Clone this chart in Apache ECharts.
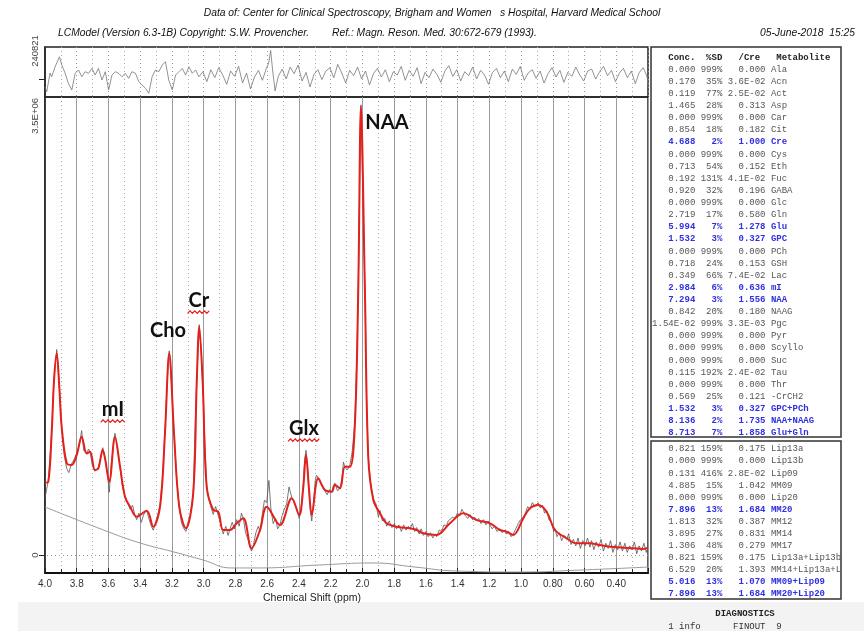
<!DOCTYPE html>
<html>
<head>
<meta charset="utf-8">
<script src="https://cdn.jsdelivr.net/npm/echarts@6/dist/echarts.min.js"></script>
<style>
html, body { margin: 0; padding: 0; background: #fff; }
#chart { width: 864px; height: 631px; }
</style>
</head>
<body>
<div id="chart"></div>
<script>
// LCModel fit output: spectrum (ppm, value in units of 1E+06)
const fitPoints = [
    [4.000,0.552],[3.979,0.560],[3.958,0.930],[3.943,1.337],[3.926,1.541],[3.910,1.286],[3.895,0.980],
    [3.863,0.701],[3.832,0.688],[3.800,0.764],[3.769,0.904],[3.737,0.777],[3.716,0.789],[3.685,0.649],
    [3.664,0.662],[3.636,0.802],[3.622,0.741],[3.595,0.560],[3.559,0.904],[3.527,0.675],[3.496,0.445],
    [3.464,0.369],[3.422,0.293],[3.359,0.338],[3.318,0.216],[3.275,0.369],[3.244,0.930],[3.217,1.541],
    [3.187,0.930],[3.154,0.369],[3.112,0.204],[3.066,0.471],[3.044,1.312],[3.028,1.744],[3.006,1.312],
    [2.981,0.522],[2.940,0.344],[2.908,0.331],[2.877,0.191],[2.834,0.191],[2.792,0.242],[2.750,0.280],
    [2.698,0.051],[2.645,0.191],[2.603,0.369],[2.519,0.229],[2.445,0.433],[2.398,0.306],[2.374,0.497],
    [2.355,0.764],[2.336,0.497],[2.319,0.306],[2.278,0.586],[2.236,0.497],[2.193,0.484],[2.173,0.535],
    [2.141,0.510],[2.110,0.675],[2.078,0.675],[2.047,1.006],[2.026,2.024],[2.009,3.425],[1.984,2.024],
    [1.963,0.751],[1.931,0.420],[1.889,0.319],[1.847,0.242],[1.784,0.216],[1.700,0.204],[1.658,0.191],
    [1.616,0.166],[1.532,0.153],[1.448,0.242],[1.364,0.319],[1.280,0.267],[1.196,0.242],[1.133,0.191],
    [1.091,0.178],[1.049,0.153],[0.986,0.280],[0.944,0.357],[0.892,0.382],[0.839,0.331],[0.786,0.191],
    [0.713,0.128],[0.650,0.089],[0.566,0.089],[0.503,0.076],[0.398,0.059],[0.293,0.051],[0.230,0.046],
    [0.200,0.056]
];

const rawPoints = [
    [4.000,0.44],[3.990,0.50],[3.979,0.57],[3.958,0.94],[3.943,1.35],[3.926,1.57],[3.910,1.30],[3.895,0.98],
    [3.880,0.77],[3.863,0.66],[3.850,0.63],[3.840,0.62],[3.832,0.70],[3.816,0.73],[3.800,0.78],[3.782,0.85],
    [3.769,0.95],[3.756,0.80],[3.737,0.77],[3.726,0.81],[3.716,0.79],[3.701,0.68],[3.685,0.64],[3.664,0.67],
    [3.651,0.73],[3.636,0.82],[3.622,0.74],[3.607,0.62],[3.595,0.48],[3.582,0.70],[3.559,0.93],[3.542,0.79],
    [3.527,0.67],[3.512,0.52],[3.496,0.45],[3.480,0.40],[3.464,0.35],[3.448,0.38],[3.433,0.30],[3.422,0.27],
    [3.408,0.32],[3.393,0.25],[3.378,0.31],[3.359,0.34],[3.343,0.27],[3.330,0.22],[3.318,0.19],[3.303,0.25],
    [3.289,0.31],[3.275,0.38],[3.259,0.60],[3.244,0.94],[3.231,1.30],[3.217,1.56],[3.202,1.29],[3.187,0.93],
    [3.171,0.60],[3.154,0.36],[3.139,0.24],[3.124,0.20],[3.112,0.18],[3.099,0.25],[3.084,0.31],[3.066,0.47],
    [3.055,0.95],[3.044,1.32],[3.028,1.76],[3.017,1.58],[3.006,1.31],[2.994,0.90],[2.981,0.53],[2.969,0.43],
    [2.955,0.37],[2.940,0.31],[2.925,0.37],[2.908,0.30],[2.895,0.25],[2.877,0.16],[2.861,0.22],[2.846,0.15],
    [2.834,0.20],[2.820,0.25],[2.806,0.20],[2.792,0.27],[2.776,0.22],[2.762,0.32],[2.750,0.28],[2.736,0.17],
    [2.721,0.12],[2.706,0.05],[2.698,0.03],[2.686,0.08],[2.671,0.17],[2.656,0.22],[2.645,0.18],[2.632,0.30],
    [2.617,0.42],[2.603,0.40],[2.589,0.57],[2.577,0.36],[2.562,0.24],[2.547,0.28],[2.534,0.20],[2.519,0.23],
    [2.506,0.30],[2.492,0.35],[2.477,0.39],[2.462,0.52],[2.445,0.44],[2.431,0.40],[2.416,0.36],[2.398,0.28],
    [2.386,0.37],[2.374,0.50],[2.364,0.73],[2.355,0.80],[2.345,0.66],[2.336,0.48],[2.327,0.33],[2.319,0.26],
    [2.306,0.43],[2.297,0.57],[2.289,0.61],[2.278,0.59],[2.263,0.55],[2.248,0.51],[2.236,0.49],[2.222,0.46],
    [2.207,0.50],[2.193,0.48],[2.183,0.53],[2.173,0.55],[2.157,0.49],[2.141,0.51],[2.129,0.59],[2.119,0.71],
    [2.110,0.67],[2.094,0.65],[2.078,0.69],[2.064,0.79],[2.047,1.02],[2.034,1.56],[2.026,2.04],[2.017,2.81],
    [2.009,3.44],[1.999,2.90],[1.984,2.04],[1.974,1.21],[1.963,0.76],[1.949,0.56],[1.931,0.43],[1.914,0.39],
    [1.899,0.29],[1.889,0.34],[1.874,0.26],[1.859,0.28],[1.847,0.22],[1.831,0.26],[1.814,0.21],[1.799,0.24],
    [1.784,0.20],[1.770,0.23],[1.754,0.18],[1.740,0.23],[1.725,0.19],[1.710,0.22],[1.700,0.20],[1.685,0.24],
    [1.670,0.18],[1.658,0.21],[1.642,0.16],[1.630,0.20],[1.616,0.15],[1.600,0.18],[1.585,0.14],[1.571,0.17],
    [1.556,0.13],[1.541,0.16],[1.532,0.14],[1.516,0.19],[1.501,0.18],[1.486,0.23],[1.471,0.22],[1.459,0.26],
    [1.448,0.25],[1.431,0.29],[1.416,0.28],[1.401,0.32],[1.386,0.30],[1.373,0.35],[1.364,0.33],[1.351,0.30],
    [1.336,0.28],[1.321,0.31],[1.306,0.27],[1.292,0.29],[1.280,0.26],[1.267,0.28],[1.252,0.24],[1.237,0.27],
    [1.222,0.23],[1.207,0.26],[1.196,0.23],[1.182,0.20],[1.167,0.22],[1.152,0.18],[1.133,0.20],[1.118,0.17],
    [1.103,0.19],[1.091,0.16],[1.078,0.18],[1.063,0.14],[1.049,0.16],[1.033,0.20],[1.018,0.24],[1.003,0.27],
    [0.986,0.29],[0.973,0.32],[0.958,0.37],[0.944,0.35],[0.929,0.40],[0.914,0.37],[0.892,0.40],[0.879,0.36],
    [0.864,0.38],[0.852,0.32],[0.839,0.34],[0.824,0.27],[0.809,0.25],[0.794,0.18],[0.786,0.20],[0.774,0.14],
    [0.759,0.17],[0.744,0.11],[0.729,0.15],[0.713,0.12],[0.700,0.16],[0.685,0.08],[0.670,0.12],[0.655,0.07],
    [0.641,0.13],[0.626,0.05],[0.611,0.11],[0.596,0.07],[0.581,0.13],[0.566,0.06],[0.556,0.11],[0.541,0.04],
    [0.526,0.10],[0.511,0.06],[0.496,0.12],[0.481,0.03],[0.466,0.09],[0.451,0.05],[0.436,0.11],[0.421,0.02],
    [0.406,0.08],[0.391,0.04],[0.376,0.10],[0.361,0.03],[0.346,0.09],[0.331,0.02],[0.316,0.07],[0.301,0.04],
    [0.286,0.10],[0.271,0.01],[0.256,0.07],[0.241,0.03],[0.226,0.09],[0.211,0.02],[0.200,0.07]
];

const baselinePoints = [
    [4.000,0.367],[3.603,0.178],[3.401,0.092],[3.193,0.025],[3.004,-0.038],[2.822,-0.099],[2.664,-0.099],
    [2.267,-0.076],[1.933,-0.061],[1.669,-0.092],[1.410,-0.122],[1.007,-0.130],[0.629,-0.115],[0.200,-0.092]
];

const residualPoints = [
    [4.000,-0.060],[3.989,-0.095],[3.968,0.045],[3.958,0.017],[3.937,0.090],[3.909,0.167],[3.894,0.105],
    [3.873,0.043],[3.853,-0.032],[3.831,-0.083],[3.810,0.043],[3.789,0.068],[3.768,0.017],[3.747,0.055],
    [3.726,0.043],[3.704,0.080],[3.684,0.030],[3.663,0.080],[3.641,-0.008],[3.620,0.055],[3.599,-0.083],
    [3.578,0.030],[3.557,0.055],[3.536,0.043],[3.515,0.017],[3.494,0.043],[3.473,0.005],[3.452,0.055],
    [3.430,0.043],[3.409,-0.020],[3.388,-0.045],[3.367,-0.070],[3.346,-0.107],[3.325,0.017],[3.304,0.068],
    [3.283,0.055],[3.261,0.105],[3.241,0.130],[3.220,-0.008],[3.198,-0.083],[3.177,0.030],[3.156,0.055],
    [3.135,0.080],[3.114,0.030],[3.093,0.092],[3.072,0.043],[3.051,0.068],[3.030,0.017],[3.005,0.055],
    [2.980,-0.020],[2.955,0.070],[2.930,0.010],[2.905,0.085],[2.880,0.030],[2.855,-0.040],[2.830,0.060],
    [2.805,0.020],[2.780,0.095],[2.755,-0.030],[2.730,0.045],[2.705,-0.075],[2.680,0.015],[2.655,0.065],
    [2.630,-0.010],[2.605,0.080],[2.590,0.120],[2.578,0.215],[2.565,0.060],[2.550,-0.090],[2.530,0.020],
    [2.505,0.075],[2.480,0.000],[2.455,0.090],[2.430,0.040],[2.405,0.105],[2.380,-0.015],[2.355,0.050],
    [2.330,-0.060],[2.305,0.035],[2.280,0.070],[2.255,-0.005],[2.230,0.060],[2.205,0.085],[2.180,0.010],
    [2.155,0.110],[2.130,0.045],[2.105,-0.030],[2.080,0.065],[2.055,0.025],[2.030,0.090],[2.005,0.000],
    [1.980,0.060],[1.955,-0.045],[1.930,0.040],[1.905,0.080],[1.880,0.015],[1.855,0.070],[1.830,-0.020],
    [1.805,0.055],[1.780,0.030],[1.755,0.095],[1.730,-0.010],[1.705,0.065],[1.680,0.020],[1.655,0.085],
    [1.630,-0.035],[1.605,0.050],[1.580,0.010],[1.555,0.075],[1.530,0.035],[1.505,-0.025],[1.480,0.060],
    [1.455,0.100],[1.430,0.020],[1.405,0.070],[1.380,-0.015],[1.355,0.055],[1.330,0.025],[1.305,0.090],
    [1.280,0.000],[1.255,0.065],[1.230,0.030],[1.205,-0.040],[1.180,0.050],[1.155,0.080],[1.130,0.010],
    [1.105,0.060],[1.080,-0.020],[1.055,0.075],[1.030,0.035],[1.005,0.095],[0.980,-0.010],[0.955,0.045],
    [0.930,0.070],[0.905,0.005],[0.880,0.060],[0.855,-0.030],[0.830,0.040],[0.805,0.085],[0.780,0.015],
    [0.755,0.065],[0.730,-0.025],[0.705,0.050],[0.680,0.020],[0.655,0.090],[0.630,0.030],[0.605,-0.015],
    [0.580,0.060],[0.555,0.075],[0.530,0.000],[0.505,0.055],[0.480,0.095],[0.455,0.025],[0.430,0.065],
    [0.405,-0.020],[0.380,0.045],[0.355,0.080],[0.330,0.010],[0.305,0.060],[0.280,-0.035],[0.255,0.050],
    [0.230,0.085],[0.205,0.015],[0.200,-0.050]
];

// concentration table (top box)
const metaboliteNames = ['Ala','Acn','Act','Asp','Car','Cit','Cre','Cys','Eth','Fuc','GABA','Glc','Gln','Glu','GPC',
    'PCh','GSH','Lac','mI','NAA','NAAG','Pgc','Pyr','Scyllo','Suc','Tau','Thr','-CrCH2','GPC+PCh','NAA+NAAG','Glu+Gln'];
const metaboliteConc = ['0.000','0.170','0.119','1.465','0.000','0.854','4.688','0.000','0.713','0.192','0.920','0.000',
    '2.719','5.994','1.532','0.000','0.718','0.349','2.984','7.294','0.842','1.54E-02','0.000','0.000','0.000','0.115',
    '0.000','0.569','1.532','8.136','8.713'];
const metaboliteSD = ['999%','35%','77%','28%','999%','18%','2%','999%','54%','131%','32%','999%','17%','7%','3%',
    '999%','24%','66%','6%','3%','20%','999%','999%','999%','999%','192%','999%','25%','3%','2%','7%'];
const metaboliteCre = ['0.000','3.6E-02','2.5E-02','0.313','0.000','0.182','1.000','0.000','0.152','4.1E-02','0.196',
    '0.000','0.580','1.278','0.327','0.000','0.153','7.4E-02','0.636','1.556','0.180','3.3E-03','0.000','0.000','0.000',
    '2.4E-02','0.000','0.121','0.327','1.735','1.858'];

// lipids / macromolecules (bottom box)
const lipidNames = ['Lip13a','Lip13b','Lip09','MM09','Lip20','MM20','MM12','MM14','MM17','Lip13a+Lip13b',
    'MM14+Lip13a+L','MM09+Lip09','MM20+Lip20'];
const lipidConc = ['0.821','0.000','0.131','4.885','0.000','7.896','1.813','3.895','1.306','0.821','6.529','5.016','7.896'];
const lipidSD = ['159%','999%','416%','15%','999%','13%','32%','27%','48%','159%','20%','13%','13%'];
const lipidCre = ['0.175','0.000','2.8E-02','1.042','0.000','1.684','0.387','0.831','0.279','0.175','1.393','1.070','1.684'];

const highlighted = ['Cre','Glu','GPC','mI','NAA','GPC+PCh','NAA+NAAG','Glu+Gln','MM20','MM09+Lip09','MM20+Lip20'];

const annotationNames = ['NAA', 'Cr', 'Cho', 'mI', 'Glx'];
const annotationPpm = [1.845, 3.030, 3.225, 3.572, 2.368];
const annotationValues = [3.308, 1.948, 1.719, 1.115, 0.970];
const squiggled = ['Cr', 'mI', 'Glx'];

const residualMax = 0.240821;   // 240821
const residualMin = -0.1354;
const spectrumMax = 3.5;        // 3.5E+06
const spectrumMin = -0.1375;

const narrowFont = '"Liberation Sans Narrow", "Liberation Sans", Arial, sans-serif';
const monoFont = '"Liberation Mono", "DejaVu Sans Mono", monospace';

const chart = echarts.init(document.getElementById('chart'));

function ppmLabel(v) {
    return v < 0.9 ? v.toFixed(2) : v.toFixed(1);
}

const option = {
    animation: false,
    grid: [
        { left: 45, top: 47, width: 603, height: 50, show: true, borderColor: '#222', borderWidth: 1.5 },
        { left: 45, top: 97, width: 603, height: 476, show: true, borderColor: '#222', borderWidth: 1.5 }
    ],
    xAxis: [
        {
            gridIndex: 0, type: 'value', min: 0.2, max: 4.0, interval: 0.2, inverse: true,
            axisLine: { show: false }, axisTick: { show: false }, axisLabel: { show: false },
            splitLine: { show: true, lineStyle: { color: '#999', type: [1, 3], width: 1 } },
            minorTick: { show: false, splitNumber: 2 },
            minorSplitLine: { show: true, lineStyle: { color: '#aaa', type: [1, 3], width: 1 } }
        },
        {
            gridIndex: 1, type: 'value', min: 0.2, max: 4.0, interval: 0.2, inverse: true,
            axisLine: { show: true, onZero: false, lineStyle: { color: '#111', width: 2 } },
            axisTick: { show: true, inside: true, length: 5, lineStyle: { color: '#222' } },
            minorTick: { show: true, splitNumber: 2, length: 4, lineStyle: { color: '#222' } },
            axisLabel: {
                formatter: ppmLabel, showMinLabel: false, margin: 6,
                color: '#333', fontSize: 10, fontFamily: narrowFont
            },
            splitLine: { show: true, lineStyle: { color: '#9a9a9a', width: 1 } },
            minorSplitLine: { show: true, lineStyle: { color: '#aaa', type: [1, 3], width: 1 } }
        }
    ],
    yAxis: [
        {
            gridIndex: 0, type: 'value', min: residualMin, max: residualMax,
            axisLine: { show: true, lineStyle: { color: '#222', width: 1.5 } },
            axisTick: { show: true, customValues: [0], length: 6, lineStyle: { color: '#222' } },
            axisLabel: { show: false }, splitLine: { show: false }
        },
        {
            gridIndex: 1, type: 'value', min: spectrumMin, max: spectrumMax,
            axisLine: { show: true, lineStyle: { color: '#222', width: 1.5 } },
            axisTick: { show: true, customValues: [0], length: 6, lineStyle: { color: '#222' } },
            axisLabel: { show: false }, splitLine: { show: false }
        }
    ],
    series: [
        {
            name: 'residual', type: 'line', xAxisIndex: 0, yAxisIndex: 0, data: residualPoints,
            showSymbol: false, lineStyle: { color: '#777', width: 0.8 }
        },
        {
            name: 'baseline', type: 'line', xAxisIndex: 1, yAxisIndex: 1, data: baselinePoints,
            showSymbol: false, smooth: true, lineStyle: { color: '#999', width: 1 },
            markLine: {
                silent: true, symbol: 'none', label: { show: false },
                lineStyle: { color: '#999', type: [1, 3], width: 1 },
                data: [{ yAxis: 0 }]
            }
        },
        {
            name: 'data', type: 'line', xAxisIndex: 1, yAxisIndex: 1, data: rawPoints,
            showSymbol: false, lineStyle: { color: '#555', width: 0.8 }
        },
        {
            name: 'fit', type: 'line', xAxisIndex: 1, yAxisIndex: 1, data: fitPoints,
            showSymbol: false, smooth: 0.35, lineStyle: { color: '#e3211c', width: 2 }
        }
    ]
};

chart.setOption(option);

// texts and the concentration table
const graphics = [];

function addText(text, x, y, opts) {
    graphics.push({
        type: 'text', x: x, y: y, z: 10, rotation: opts.rotation || 0, silent: true,
        style: Object.assign({
            text: text, fill: '#222', align: 'left', verticalAlign: 'middle',
            fontSize: 10, fontFamily: narrowFont
        }, opts.style || {})
    });
}

// light band at the bottom
graphics.push({ type: 'rect', z: 0, silent: true, shape: { x: 18, y: 602, width: 846, height: 29 }, style: { fill: '#f3f3f3' } });

const headStyle = { fontSize: 10.3, fontStyle: 'italic', fill: '#111' };
addText('Data of: Center for Clinical Spectroscopy, Brigham and Women   s Hospital, Harvard Medical School', 432, 13,
    { style: Object.assign({ align: 'center' }, headStyle) });
addText('LCModel (Version 6.3-1B) Copyright: S.W. Provencher.', 58, 33, { style: headStyle });
addText('Ref.: Magn. Reson. Med. 30:672-679 (1993).', 332, 33, { style: headStyle });
addText('05-June-2018  15:25', 855, 33, { style: Object.assign({ align: 'right' }, headStyle) });

addText('Chemical Shift (ppm)', 312, 598, { style: { align: 'center', fontSize: 10.5, fill: '#222' } });

// rotated y-axis labels
const yTop = chart.convertToPixel({ yAxisIndex: 0 }, residualMax);
const ySpecTop = chart.convertToPixel({ yAxisIndex: 1 }, spectrumMax);
const ySpecZero = chart.convertToPixel({ yAxisIndex: 1 }, 0);
const vertStyle = { fontSize: 9.5, fill: '#444', verticalAlign: 'middle' };
addText('240821', 35, yTop + 4, { rotation: Math.PI / 2, style: Object.assign({ align: 'center' }, vertStyle) });
addText('3.5E+06', 35, ySpecTop + 1, { rotation: Math.PI / 2, style: Object.assign({ align: 'right' }, vertStyle) });
addText('0', 35, ySpecZero, { rotation: Math.PI / 2, style: Object.assign({ align: 'center' }, vertStyle) });

// peak annotations
const measureCtx = document.createElement('canvas').getContext('2d');
measureCtx.font = 'bold 20px Lato';
annotationNames.forEach(function (name, i) {
    const p = chart.convertToPixel({ gridIndex: 1 }, [annotationPpm[i], annotationValues[i]]);
    addText(name, p[0], p[1], { style: { align: 'center', fontSize: 20, fontWeight: 'bold', fontFamily: 'Lato, "Open Sans", sans-serif', fill: '#111' } });
    if (squiggled.indexOf(name) >= 0) {
        const w = measureCtx.measureText(name).width;
        const pts = [];
        const x0 = p[0] - w / 2 - 1;
        const y0 = p[1] + 12;
        for (let k = 0; x0 + k * 2.4 <= p[0] + w / 2 + 2; k++) {
            pts.push([x0 + k * 2.4, y0 + (k % 2 === 0 ? 1.3 : -1.3)]);
        }
        graphics.push({ type: 'polyline', z: 10, silent: true, shape: { points: pts }, style: { stroke: '#e3211c', lineWidth: 1.2, fill: null } });
    }
});

// table boxes
const charW = 5.4;
const colX = 668.3 - 3 * charW;
graphics.push({ type: 'rect', z: 5, silent: true, shape: { x: 651, y: 47, width: 190, height: 390 }, style: { fill: '#fff', stroke: '#333', lineWidth: 1.5 } });
graphics.push({ type: 'rect', z: 5, silent: true, shape: { x: 651, y: 441, width: 190, height: 158 }, style: { fill: '#fff', stroke: '#333', lineWidth: 1.5 } });

function rowText(conc, sd, cre, name) {
    return conc.padStart(8) + ' ' + sd.padStart(4) + ' ' + cre.padStart(7) + ' ' + name;
}

function tableStyle(name) {
    const hi = highlighted.indexOf(name) >= 0;
    return {
        fontSize: 9, fontFamily: monoFont, fontWeight: hi ? 'bold' : 'normal',
        fill: hi ? '#3030e0' : '#555', whiteSpace: 'pre'
    };
}

addText('   Conc.  %SD   /Cre   Metabolite', colX, 57.5, { style: { fontSize: 9, fontFamily: monoFont, fontWeight: 'bold', fill: '#222' } });
metaboliteNames.forEach(function (name, i) {
    addText(rowText(metaboliteConc[i], metaboliteSD[i], metaboliteCre[i], name), colX, 69.5 + i * 12.11, { style: tableStyle(name) });
});
lipidNames.forEach(function (name, i) {
    addText(rowText(lipidConc[i], lipidSD[i], lipidCre[i], name), colX, 449 + i * 12.06, { style: tableStyle(name) });
});

addText('DIAGNOSTICS', 745, 614, { style: { align: 'center', fontSize: 9, fontFamily: monoFont, fontWeight: 'bold', fill: '#222' } });
addText('   1 info      FINOUT  9', colX, 627, { style: { fontSize: 9, fontFamily: monoFont, fill: '#333' } });

chart.setOption({ graphic: graphics });
</script>
</body>
</html>
